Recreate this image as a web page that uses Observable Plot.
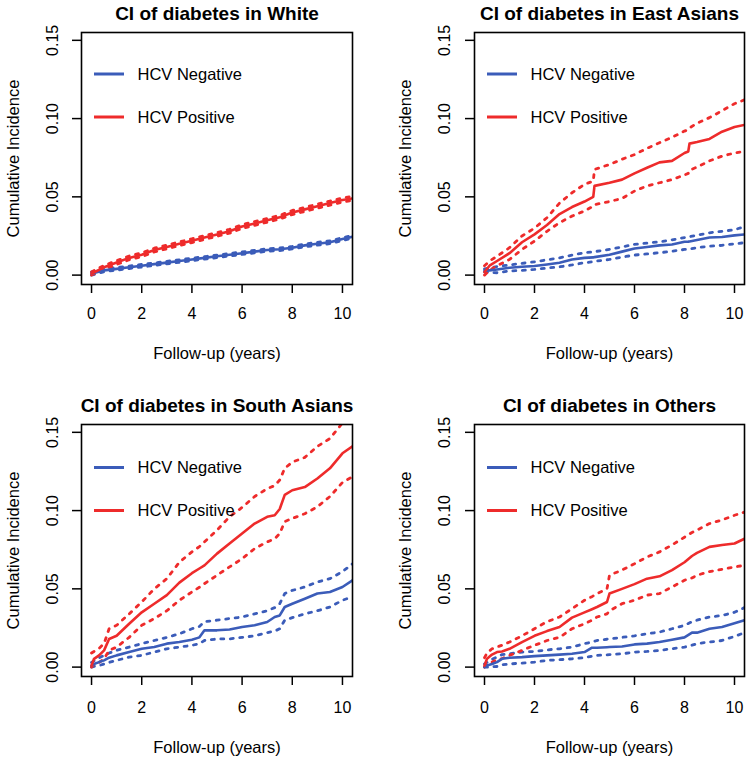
<!DOCTYPE html>
<html>
<head>
<meta charset="utf-8">
<script src="https://cdn.jsdelivr.net/npm/d3@7"></script>
<script src="https://cdn.jsdelivr.net/npm/@observablehq/plot@0.6"></script>
<style>
  body { margin: 0; background: #ffffff; }
  #chart { position: relative; width: 750px; height: 760px; font-family: "Liberation Sans", Arial, sans-serif; }
  .panel { position: absolute; width: 375px; height: 380px; }
  .panel svg [aria-label*="axis"] line, .panel svg [aria-label*="axis"] path { stroke-width: 1.5px; }
</style>
</head>
<body>
<div id="chart"></div>
<script>
// ---------- labels ----------
const panelTitles = [
  "CI of diabetes in White",
  "CI of diabetes in East Asians",
  "CI of diabetes in South Asians",
  "CI of diabetes in Others"
];
const seriesNames = ["HCV Negative", "HCV Positive"];
const xAxisLabel = "Follow-up (years)";
const yAxisLabel = "Cumulative Incidence";
const xTicks = [0, 2, 4, 6, 8, 10];
const yTicks = [0, 0.05, 0.10, 0.15];
const yTickLabels = ["0.00", "0.05", "0.10", "0.15"];

// ---------- White ----------
const tWhite = [0, 0.5, 1, 1.5, 2, 2.5, 3, 3.5, 4, 4.5, 5, 5.5, 6, 6.5, 7, 7.5, 8, 8.5, 9, 9.5, 10, 10.4];
const negWhite   = [0.001, 0.003, 0.004, 0.005, 0.006, 0.007, 0.008, 0.009, 0.010, 0.011, 0.012, 0.013, 0.014, 0.015, 0.016, 0.0165, 0.0175, 0.019, 0.020, 0.021, 0.023, 0.0245];
const negWhiteLo = [0.000, 0.0022, 0.0032, 0.0042, 0.0052, 0.0062, 0.0072, 0.0082, 0.0092, 0.0102, 0.0112, 0.0122, 0.0132, 0.0142, 0.0152, 0.0157, 0.0167, 0.0181, 0.0191, 0.0201, 0.0221, 0.0236];
const negWhiteHi = [0.002, 0.0038, 0.0048, 0.0058, 0.0068, 0.0078, 0.0088, 0.0098, 0.0108, 0.0118, 0.0128, 0.0138, 0.0148, 0.0158, 0.0168, 0.0173, 0.0183, 0.0199, 0.0209, 0.0219, 0.0239, 0.0254];
const posWhite   = [0.001, 0.005, 0.008, 0.011, 0.013, 0.016, 0.018, 0.020, 0.022, 0.024, 0.026, 0.028, 0.031, 0.033, 0.035, 0.037, 0.040, 0.042, 0.044, 0.046, 0.048, 0.049];
const posWhiteLo = [0.000, 0.0038, 0.0068, 0.0098, 0.0118, 0.0148, 0.0168, 0.0188, 0.0208, 0.0228, 0.0248, 0.0268, 0.0298, 0.0318, 0.0338, 0.0358, 0.0387, 0.0407, 0.0427, 0.0447, 0.0467, 0.0477];
const posWhiteHi = [0.002, 0.0062, 0.0092, 0.0122, 0.0142, 0.0172, 0.0192, 0.0212, 0.0232, 0.0252, 0.0272, 0.0292, 0.0322, 0.0342, 0.0362, 0.0382, 0.0413, 0.0433, 0.0453, 0.0473, 0.0493, 0.0503];

// ---------- East Asians ----------
const tEast = [0, 0.2, 0.5, 1, 1.5, 2, 2.5, 3, 3.5, 4, 4.35, 4.4, 5, 5.5, 6, 6.5, 7, 7.5, 8, 8.15, 8.2, 8.5, 9, 9.5, 10, 10.4];
const negEast   = [0.003, 0.003, 0.0036, 0.0047, 0.0053, 0.0058, 0.0068, 0.0079, 0.010, 0.011, 0.0113, 0.0115, 0.013, 0.015, 0.017, 0.018, 0.019, 0.0196, 0.0213, 0.0214, 0.0215, 0.0224, 0.024, 0.0243, 0.0254, 0.026];
const negEastLo = [0.002, 0.0018, 0.0015, 0.0026, 0.003, 0.0036, 0.0045, 0.0053, 0.0065, 0.0079, 0.0086, 0.0088, 0.010, 0.0115, 0.0128, 0.0135, 0.0143, 0.0152, 0.0164, 0.0165, 0.0166, 0.0175, 0.0185, 0.019, 0.020, 0.0207];
const negEastHi = [0.004, 0.0045, 0.0055, 0.0065, 0.0075, 0.0085, 0.0098, 0.011, 0.0128, 0.0143, 0.0148, 0.015, 0.0164, 0.018, 0.0196, 0.0205, 0.0213, 0.0225, 0.024, 0.0243, 0.0245, 0.0255, 0.027, 0.028, 0.029, 0.031];
const posEast   = [0.002, 0.006, 0.009, 0.014, 0.021, 0.026, 0.032, 0.039, 0.0435, 0.047, 0.050, 0.057, 0.059, 0.061, 0.065, 0.0686, 0.072, 0.073, 0.078, 0.079, 0.084, 0.085, 0.087, 0.0916, 0.0946, 0.096];
const posEastLo = [0.000, 0.003, 0.006, 0.010, 0.0164, 0.0217, 0.028, 0.0335, 0.0377, 0.041, 0.044, 0.045, 0.047, 0.049, 0.0537, 0.057, 0.059, 0.061, 0.064, 0.065, 0.067, 0.069, 0.073, 0.076, 0.078, 0.079];
const posEastHi = [0.006, 0.009, 0.012, 0.0175, 0.025, 0.030, 0.0367, 0.046, 0.0526, 0.058, 0.060, 0.0675, 0.0707, 0.074, 0.077, 0.081, 0.0846, 0.088, 0.092, 0.093, 0.094, 0.097, 0.1006, 0.105, 0.1095, 0.112];

// ---------- South Asians ----------
const tSouth = [0, 0.1, 0.3, 0.5, 0.7, 1, 1.5, 2, 2.5, 3, 3.5, 4, 4.3, 4.5, 5, 5.5, 6, 6.5, 7, 7.3, 7.5, 7.7, 8, 8.5, 9, 9.5, 10, 10.4];
const negSouth   = [0.001, 0.002, 0.0032, 0.0043, 0.006, 0.0075, 0.0096, 0.0117, 0.0128, 0.015, 0.016, 0.0175, 0.019, 0.0235, 0.0235, 0.024, 0.0256, 0.0267, 0.0288, 0.032, 0.033, 0.0384, 0.0405, 0.0437, 0.047, 0.048, 0.0512, 0.0555];
const negSouthLo = [0.000, 0.0005, 0.001, 0.002, 0.003, 0.0043, 0.0064, 0.0075, 0.0096, 0.0117, 0.0128, 0.0139, 0.015, 0.017, 0.018, 0.018, 0.019, 0.020, 0.022, 0.023, 0.0245, 0.030, 0.0316, 0.034, 0.036, 0.0384, 0.0427, 0.045];
const negSouthHi = [0.003, 0.004, 0.006, 0.0075, 0.009, 0.0107, 0.0128, 0.015, 0.017, 0.019, 0.0213, 0.0245, 0.026, 0.029, 0.030, 0.031, 0.032, 0.034, 0.036, 0.038, 0.0405, 0.047, 0.049, 0.0512, 0.0544, 0.0565, 0.061, 0.066];
const posSouth   = [0.001, 0.0053, 0.0075, 0.0107, 0.018, 0.020, 0.0277, 0.035, 0.0405, 0.046, 0.054, 0.060, 0.063, 0.065, 0.0725, 0.079, 0.0853, 0.0917, 0.096, 0.097, 0.101, 0.110, 0.113, 0.115, 0.1205, 0.127, 0.1366, 0.141];
const posSouthLo = [0.000, 0.002, 0.003, 0.0053, 0.0107, 0.0128, 0.019, 0.0267, 0.031, 0.036, 0.0427, 0.048, 0.051, 0.0533, 0.0587, 0.064, 0.0693, 0.0757, 0.080, 0.082, 0.0853, 0.093, 0.095, 0.098, 0.1024, 0.109, 0.118, 0.1216];
const posSouthHi = [0.009, 0.010, 0.012, 0.015, 0.0245, 0.0267, 0.034, 0.0416, 0.050, 0.0565, 0.067, 0.0736, 0.077, 0.080, 0.0875, 0.096, 0.102, 0.109, 0.114, 0.116, 0.1195, 0.127, 0.131, 0.134, 0.141, 0.146, 0.156, 0.162];

// ---------- Others ----------
const tOther = [0, 0.1, 0.3, 0.5, 0.7, 1, 1.5, 2, 2.5, 3, 3.5, 4, 4.3, 4.5, 4.9, 5, 5.5, 6, 6.5, 7, 7.5, 8, 8.3, 8.5, 9, 9.5, 10, 10.4];
const negOther   = [0.000, 0.001, 0.002, 0.0032, 0.0053, 0.006, 0.0064, 0.007, 0.0075, 0.008, 0.0085, 0.0096, 0.0124, 0.0124, 0.0127, 0.0128, 0.0132, 0.0145, 0.015, 0.016, 0.0175, 0.019, 0.022, 0.022, 0.0245, 0.0256, 0.028, 0.030];
const negOtherLo = [0.000, 0.000, 0.0002, 0.0004, 0.0015, 0.002, 0.0026, 0.0032, 0.0043, 0.0047, 0.0053, 0.006, 0.007, 0.0075, 0.0078, 0.008, 0.0085, 0.0096, 0.010, 0.0107, 0.0117, 0.0128, 0.014, 0.015, 0.016, 0.017, 0.0196, 0.022];
const negOtherHi = [0.002, 0.003, 0.005, 0.0064, 0.008, 0.0085, 0.0096, 0.010, 0.011, 0.0117, 0.0128, 0.015, 0.016, 0.017, 0.0178, 0.018, 0.019, 0.020, 0.0213, 0.0224, 0.0245, 0.0267, 0.029, 0.030, 0.032, 0.033, 0.035, 0.038];
const posOther   = [0.001, 0.0053, 0.008, 0.0096, 0.010, 0.0117, 0.016, 0.020, 0.023, 0.0256, 0.0316, 0.035, 0.037, 0.0384, 0.0416, 0.047, 0.050, 0.053, 0.0565, 0.058, 0.062, 0.067, 0.071, 0.073, 0.0768, 0.078, 0.079, 0.082];
const posOtherLo = [0.000, 0.002, 0.0032, 0.0047, 0.0055, 0.0075, 0.0107, 0.0139, 0.017, 0.019, 0.0245, 0.0277, 0.030, 0.032, 0.034, 0.036, 0.0405, 0.0427, 0.046, 0.047, 0.0512, 0.0555, 0.057, 0.0587, 0.061, 0.0625, 0.064, 0.065];
const posOtherHi = [0.006, 0.009, 0.0117, 0.0128, 0.014, 0.016, 0.020, 0.0245, 0.029, 0.032, 0.0373, 0.0427, 0.045, 0.047, 0.050, 0.0587, 0.062, 0.066, 0.0704, 0.0736, 0.078, 0.083, 0.086, 0.0875, 0.0917, 0.094, 0.097, 0.099];

// ---------- styling ----------
const colNeg = "#3b5cb9";
const colPos = "#ee2b2b";
const fontFamily = "'Liberation Sans', Arial, sans-serif";

const panels = [
  {title: panelTitles[0], t: tWhite, neg: negWhite, negLo: negWhiteLo, negHi: negWhiteHi, pos: posWhite, posLo: posWhiteLo, posHi: posWhiteHi,
   left: 0, top: 0, ml: 81, mr: 23, mt: 32, mb: 96, pad: 14, xlab: 69, ylab: -68, ytl: -29, leg: [42, 85]},
  {title: panelTitles[1], t: tEast, neg: negEast, negLo: negEastLo, negHi: negEastHi, pos: posEast, posLo: posEastLo, posHi: posEastHi,
   left: 375, top: 0, ml: 99, mr: 6, mt: 32, mb: 96, pad: 14, xlab: 69, ylab: -69, ytl: -30, leg: [42, 85]},
  {title: panelTitles[2], t: tSouth, neg: negSouth, negLo: negSouthLo, negHi: negSouthHi, pos: posSouth, posLo: posSouthLo, posHi: posSouthHi,
   left: 0, top: 380, ml: 81, mr: 23, mt: 44, mb: 84, pad: 16, xlab: 71, ylab: -68, ytl: -29, leg: [43.5, 86.5]},
  {title: panelTitles[3], t: tOther, neg: negOther, negLo: negOtherLo, negHi: negOtherHi, pos: posOther, posLo: posOtherLo, posHi: posOtherHi,
   left: 375, top: 380, ml: 99, mr: 6, mt: 44, mb: 84, pad: 16, xlab: 71, ylab: -69, ytl: -30, leg: [43.5, 86.5]}
];

function rows(t, v) { return t.map((x, i) => ({x, y: v[i]})); }

function legendSwatches(dys) {
  return (index, scales, values, dimensions) => {
    const g = d3.create("svg:g");
    const x0 = dimensions.marginLeft, y0 = dimensions.marginTop;
    [colNeg, colPos].forEach((c, i) => {
      g.append("line")
        .attr("x1", x0 + 13).attr("x2", x0 + 43)
        .attr("y1", y0 + dys[i]).attr("y2", y0 + dys[i])
        .style("stroke", c).style("stroke-width", "3px");
    });
    return g.node();
  };
}

const chart = document.getElementById("chart");
for (const p of panels) {
  const dotted = {curve: "linear", strokeWidth: 2.8, strokeDasharray: "3,6.5", clip: true};
  const solid = {curve: "linear", strokeWidth: 2.6, clip: true};
  const plot = Plot.plot({
    width: 375,
    height: 380,
    marginLeft: p.ml, marginRight: p.mr, marginTop: p.mt, marginBottom: p.mb,
    style: {fontFamily, fontSize: "16px", color: "#000", background: "transparent"},
    x: {domain: [-0.4, 10.4], ticks: xTicks, tickSize: 9, tickPadding: p.pad, label: null, tickFormat: d3.format("d")},
    y: {domain: [-0.006, 0.155], ticks: yTicks, tickSize: 9, tickFormat: () => "", label: null},
    marks: [
      Plot.line(rows(p.t, p.negLo), {x: "x", y: "y", stroke: colNeg, ...dotted}),
      Plot.line(rows(p.t, p.negHi), {x: "x", y: "y", stroke: colNeg, ...dotted}),
      Plot.line(rows(p.t, p.posLo), {x: "x", y: "y", stroke: colPos, ...dotted}),
      Plot.line(rows(p.t, p.posHi), {x: "x", y: "y", stroke: colPos, ...dotted}),
      Plot.line(rows(p.t, p.neg), {x: "x", y: "y", stroke: colNeg, ...solid}),
      Plot.line(rows(p.t, p.pos), {x: "x", y: "y", stroke: colPos, ...solid}),
      Plot.frame({stroke: "#000", strokeWidth: 1.6}),
      // y tick labels (rotated, R style)
      Plot.text(yTicks, {y: d => d, text: (d, i) => yTickLabels[i], frameAnchor: "left", dx: p.ytl, rotate: -90,
        textAnchor: "middle", lineAnchor: "middle", fontSize: 16, fill: "#000"}),
      // titles and axis labels
      Plot.text([p.title], {frameAnchor: "top", dy: -19, fontSize: 19, fontWeight: "bold", lineAnchor: "middle", fill: "#000"}),
      Plot.text([xAxisLabel], {frameAnchor: "bottom", dy: p.xlab, fontSize: 16.5, lineAnchor: "middle", fill: "#000"}),
      Plot.text([yAxisLabel], {frameAnchor: "left", dx: p.ylab, rotate: -90, fontSize: 16.5, lineAnchor: "middle", textAnchor: "middle", fill: "#000"}),
      // legend
      legendSwatches(p.leg),
      Plot.text([seriesNames[0]], {frameAnchor: "top-left", dx: 56, dy: p.leg[0], fontSize: 16.5, textAnchor: "start", lineAnchor: "middle", fill: "#000"}),
      Plot.text([seriesNames[1]], {frameAnchor: "top-left", dx: 56, dy: p.leg[1], fontSize: 16.5, textAnchor: "start", lineAnchor: "middle", fill: "#000"})
    ]
  });
  const div = document.createElement("div");
  div.className = "panel";
  div.style.left = p.left + "px";
  div.style.top = p.top + "px";
  div.appendChild(plot);
  chart.appendChild(div);
}
</script>
</body>
</html>
